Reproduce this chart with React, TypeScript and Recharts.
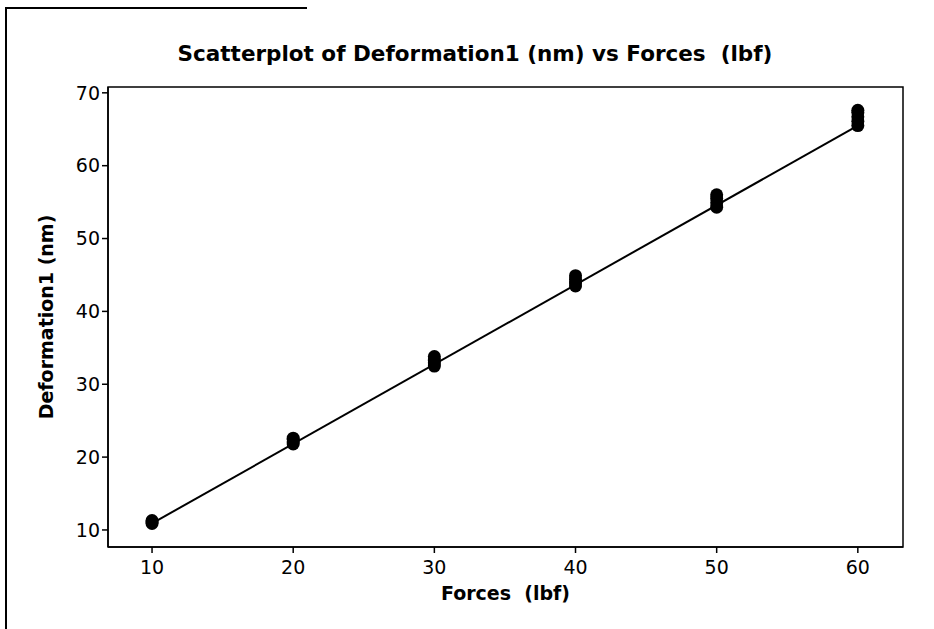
import {
  ScatterChart,
  Scatter,
  XAxis,
  YAxis,
  ReferenceArea,
  Label,
} from "recharts";

const forces = [10, 10, 10, 20, 20, 20, 20, 30, 30, 30, 30, 40, 40, 40, 40, 50, 50, 50, 50, 60, 60, 60, 60, 60];
const deformation = [
  10.9, 11.1, 11.3,
  21.8, 22.1, 22.4, 22.6,
  32.5, 32.9, 33.3, 33.8,
  43.5, 43.9, 44.4, 44.9,
  54.3, 54.9, 55.5, 56.0,
  65.5, 66.1, 66.7, 67.3, 67.6,
];

// fitted line end points
const fitForces = [10, 60];
const fitDeformation = [10.9, 65.5];

const xTicks = [10, 20, 30, 40, 50, 60];
const yTicks = [10, 20, 30, 40, 50, 60, 70];

const X_DOMAIN: [number, number] = [6.88, 63.2];
const Y_DOMAIN: [number, number] = [7.66, 70.8];

const points = forces.map((f, i) => ({ x: f, y: deformation[i] }));
const fit = fitForces.map((f, i) => ({ x: f, y: fitDeformation[i] }));

const FONT = "'DejaVu Sans', Verdana, sans-serif";

const Dot = (props: any) => <circle cx={props.cx} cy={props.cy} r={6.5} fill="#000" />;

export default function App() {
  return (
    <div
      style={{
        position: "absolute",
        left: 0,
        top: 0,
        width: 934,
        height: 629,
        background: "#fff",
        fontFamily: FONT,
      }}
    >
      {/* scanned page edges */}
      <div style={{ position: "absolute", left: 5, top: 7, width: 2, height: 622, background: "#000" }} />
      <div style={{ position: "absolute", left: 5, top: 7, width: 302, height: 2, background: "#000" }} />
      <div
        style={{
          position: "absolute",
          left: 0,
          top: 41,
          width: 950,
          textAlign: "center",
          fontSize: 21.5,
          fontWeight: "bold",
          fontFamily: FONT,
          color: "#000",
        }}
      >
        Scatterplot of Deformation1 (nm) vs Forces&nbsp;&nbsp;(lbf)
      </div>
      <ScatterChart
        width={934}
        height={629}
        margin={{ top: 87, right: 31, bottom: 0, left: 48 }}
        style={{ position: "absolute", left: 0, top: 0 }}
      >
        <XAxis
          type="number"
          dataKey="x"
          domain={X_DOMAIN}
          ticks={xTicks}
          allowDataOverflow
          axisLine={{ stroke: "#000", strokeWidth: 1.5 }}
          tickLine={{ stroke: "#000", strokeWidth: 1.5 }}
          tickSize={6}
          tick={{ fill: "#000", fontSize: 19, fontFamily: FONT, dy: 6 }}
          height={82}
        >
          <Label
            value={"Forces\u00a0\u00a0(lbf)"}
            position="insideTop"
            offset={40}
            style={{ fill: "#000", fontSize: 19, fontWeight: "bold", fontFamily: FONT }}
          />
        </XAxis>
        <YAxis
          type="number"
          dataKey="y"
          domain={Y_DOMAIN}
          ticks={yTicks}
          allowDataOverflow
          axisLine={{ stroke: "#000", strokeWidth: 1.5 }}
          tickLine={{ stroke: "#000", strokeWidth: 1.5 }}
          tickSize={6}
          tick={{ fill: "#000", fontSize: 19, fontFamily: FONT }}
          width={60}
        >
          <Label
            value="Deformation1 (nm)"
            angle={-90}
            position="insideLeft"
            offset={-2}
            style={{ textAnchor: "middle", fill: "#000", fontSize: 19, fontWeight: "bold", fontFamily: FONT }}
          />
        </YAxis>
        <ReferenceArea
          x1={X_DOMAIN[0]}
          x2={X_DOMAIN[1]}
          y1={Y_DOMAIN[0]}
          y2={Y_DOMAIN[1]}
          fill="none"
          stroke="#000"
          strokeWidth={1.5}
          ifOverflow="visible"
        />
        <Scatter
          data={fit}
          line={{ stroke: "#000", strokeWidth: 2 }}
          shape={() => <g />}
          isAnimationActive={false}
        />
        <Scatter data={points} fill="#000" shape={Dot} isAnimationActive={false} />
      </ScatterChart>
    </div>
  );
}
